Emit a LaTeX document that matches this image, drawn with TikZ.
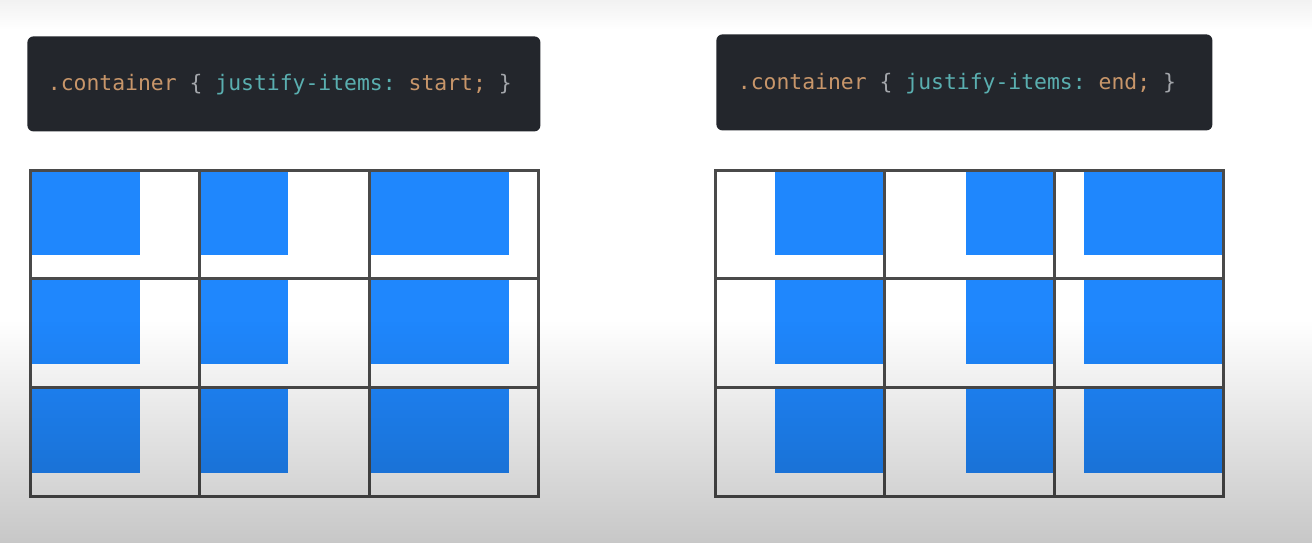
\documentclass[tikz,border=0pt]{standalone}
\usepackage{fontspec}
\setmonofont{DejaVu Sans Mono}
\usetikzlibrary{positioning,fadings}

\definecolor{codebg}{HTML}{23262C}
\definecolor{codetan}{HTML}{C8966A}
\definecolor{codeteal}{HTML}{5AAFB0}
\definecolor{codegray}{HTML}{A3A6AB}
\definecolor{itemblue}{HTML}{1F87FD}
\definecolor{gridline}{HTML}{4A4A4A}

\tikzset{
	codebox/.style={fill=codebg, rounded corners=3pt, inner sep=0pt, anchor=north west},
	codetext/.style={font=\ttfamily\fontsize{10.7}{12}\selectfont, inner sep=0pt, anchor=base west},
	item/.style={fill=itemblue},
	gridcell/.style={draw=gridline, line width=1.5pt},
}

\begin{document}
\begin{tikzpicture}[x=0.5pt,y=-0.5pt]
		\fill[white] (0,0) rectangle (1314,543);
		\useasboundingbox (0,0) rectangle (1314,543);

		% code boxes
		\node[codebox, minimum width=256.5pt, minimum height=47.5pt] (startbox) at (27,36) {};
		\node[codebox, minimum width=248pt, minimum height=48pt] (endbox) at (716,34) {};
		\node[codetext] (starttext) at (47.5,90.5) {\color{codetan}.container \color{codegray}\{ \color{codeteal}justify-items: \color{codetan}start; \color{codegray}\}};
		\node[codetext] (endtext) at (737.5,89.5) {\color{codetan}.container \color{codegray}\{ \color{codeteal}justify-items: \color{codetan}end; \color{codegray}\}};

		% justify-items: start
		\foreach \c/\w in {0/110,1/88,2/140}
			\foreach \r in {0,1,2}
				\fill[item] ({30+\c*169.5},{170+\r*108.8}) rectangle +(\w,85);
		\foreach \c in {0,1,2}
			\foreach \r in {0,1,2}
				\draw[gridcell] ({30+\c*169.5},{170+\r*108.8}) rectangle +(169.5,108.8);

		% justify-items: end
		\foreach \c/\w in {0/110,1/88,2/140}
			\foreach \r in {0,1,2}
				\fill[item] ({715+(\c+1)*169.5},{170+\r*108.8}) rectangle +(-\w,85);
		\foreach \c in {0,1,2}
			\foreach \r in {0,1,2}
				\draw[gridcell] ({715+\c*169.5},{170+\r*108.8}) rectangle +(169.5,108.8);

		% screen shading
		\fill[black, path fading=north, fill opacity=0.22] (0,320) rectangle (1314,543);
		\fill[black, path fading=south, fill opacity=0.05] (0,0) rectangle (1314,30);
\end{tikzpicture}
\end{document}
